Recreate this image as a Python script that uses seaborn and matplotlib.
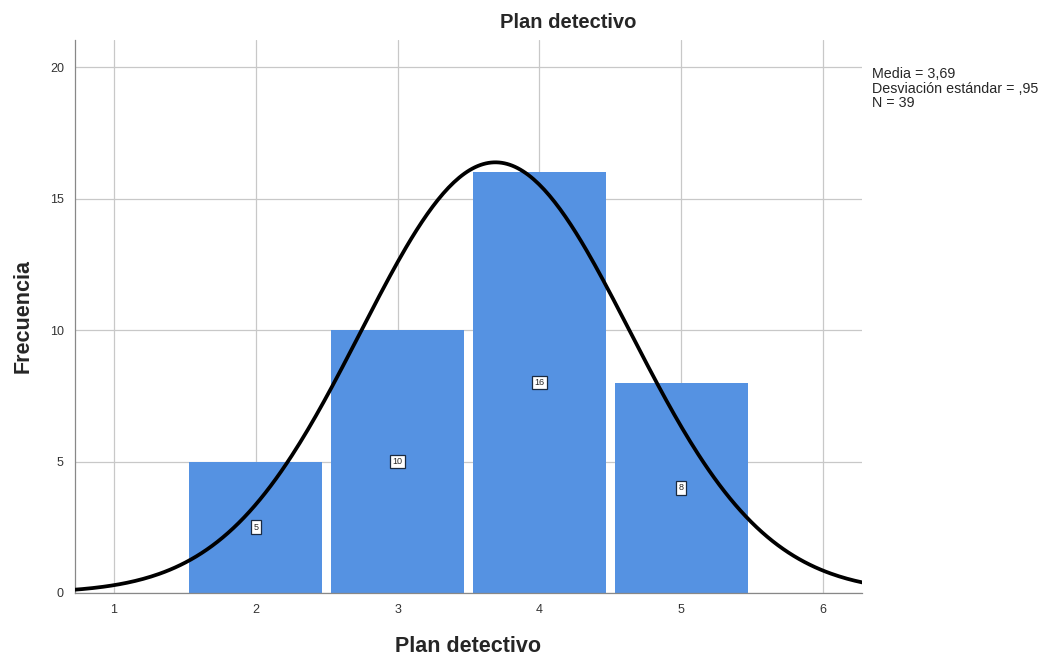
import numpy as np
import pandas as pd
import matplotlib
matplotlib.use("Agg")
import matplotlib.pyplot as plt
import seaborn as sns

# data
valores = [2, 3, 4, 5]
frecuencias = [5, 10, 16, 8]
media = 3.69
desviacion = 0.95
n = 39

sns.set_style("white")
plt.rcParams["font.family"] = ["Liberation Sans", "DejaVu Sans"]

df = pd.DataFrame({"plan": valores, "frecuencia": frecuencias})

fig = plt.figure(figsize=(10.53, 6.61), dpi=100)
ax = fig.add_axes([0.0712, 0.1029, 0.7474, 0.8366])

sns.histplot(data=df, x="plan", weights="frecuencia", discrete=True, shrink=0.94,
             color="#5592E2", alpha=1, edgecolor="none", ax=ax, zorder=2)

# normal curve scaled to counts
xs = np.linspace(0.7, 6.3, 300)
ys = n * 1.0 * np.exp(-0.5 * ((xs - media) / desviacion) ** 2) / (desviacion * np.sqrt(2 * np.pi))
sns.lineplot(x=xs, y=ys, color="black", linewidth=2.7, ax=ax, zorder=4)

# labels inside the bars
for v, f in zip(valores, frecuencias):
    ax.text(v, f / 2, str(f), ha="center", va="center", fontsize=6.5, zorder=5,
            bbox=dict(boxstyle="square,pad=0.25", fc="white", ec="#1a2a40", lw=0.9))

ax.set_xlim(0.725, 6.275)
ax.set_ylim(0, 21.03)
ax.set_xticks([1, 2, 3, 4, 5, 6])
ax.set_yticks([0, 5, 10, 15, 20])
ax.grid(True, color="#c8c8c8", linewidth=0.9, zorder=0)
ax.set_axisbelow(True)
for s in ["top", "right"]:
    ax.spines[s].set_visible(False)
for s in ["left", "bottom"]:
    ax.spines[s].set_color("#888888")
    ax.spines[s].set_linewidth(0.9)
ax.tick_params(axis="both", labelsize=9, colors="#333333", length=0, pad=8)

ax.set_xlabel("Plan detectivo", fontsize=15.5, fontweight="bold", labelpad=14)
ax.set_ylabel("Frecuencia", fontsize=15.5, fontweight="bold", labelpad=12)

fig.text(568 / 1053, 1 - 22 / 661, "Plan detectivo", ha="center", va="center",
         fontsize=14.5, fontweight="bold")
fig.text(872 / 1053, 1 - 67 / 661,
         "Media = 3,69\nDesviación estándar = ,95\nN = 39",
         ha="left", va="top", fontsize=10.3, linespacing=1.05)

fig.savefig("out.png", dpi=100)
